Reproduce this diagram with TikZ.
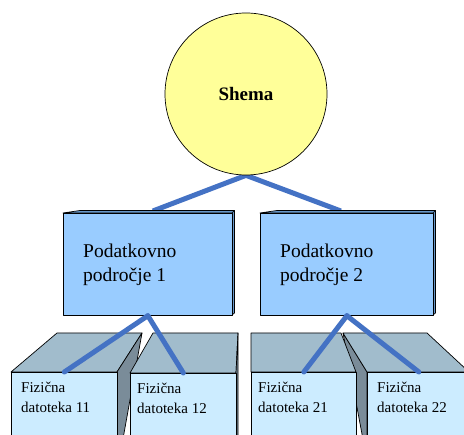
\documentclass[tikz,border=0pt]{standalone}
\usepackage{fontspec}
\setmainfont{Liberation Serif}
\newfontfamily\labelserif{Liberation Serif}
\usetikzlibrary{calc,backgrounds}

\definecolor{rootfill}{RGB}{255,255,153}
\definecolor{areafill}{RGB}{153,204,255}
\definecolor{areaside}{RGB}{102,150,200}
\definecolor{filefront}{RGB}{204,236,255}
\definecolor{filetop}{RGB}{161,188,204}
\definecolor{fileside}{RGB}{122,140,153}
\definecolor{linkblue}{RGB}{68,114,196}

\tikzset{
  outline/.style={draw=black, line width=0.7pt, line join=round},
  rootnode/.style={outline, circle, fill=rootfill, minimum size=162pt, inner sep=0pt,
    font=\labelserif\fontsize{19}{22}\selectfont\bfseries},
  areanode/.style={outline, rectangle, fill=areafill, minimum width=169pt, minimum height=102pt,
    anchor=north west, inner sep=0pt},
  areabevel/.style={outline, fill=areaside},
  areatext/.style={anchor=north west, inner sep=0pt, align=left,
    font=\labelserif\fontsize{19.5}{24}\selectfont},
  filefrontnode/.style={outline, rectangle, fill=filefront, anchor=north west, inner sep=0pt,
    minimum height=80pt},
  filetopface/.style={outline, fill=filetop},
  filesideface/.style={outline, fill=fileside},
  filetext/.style={anchor=north west, inner sep=0pt, align=left,
    font=\labelserif\fontsize{15}{20}\selectfont},
  link/.style={draw=linkblue, line width=5pt, line cap=round}
}

\begin{document}
\begin{tikzpicture}[x=1pt, y=-1pt]
\useasboundingbox (0,0) rectangle (464,435);
\clip (0,0) rectangle (464,435);

% physical file 11
\draw[filetopface] (11,372) -- (57,333) -- (142,333) -- (117,372) -- cycle;
\draw[filesideface] (117,372) -- (142,333) -- (121,450) -- (117,450) -- cycle;
\node[filefrontnode, minimum width=106pt] (f11) at (11,372) {};
\node[filetext] (t11) at (21,382) {Fizična\\datoteka 11};

% physical file 12
\draw[filetopface] (130,373) -- (153,333) -- (238,333) -- (236,373) -- cycle;
\draw[filesideface] (236,373) -- (238,333) -- (238,450) -- (236,450) -- cycle;
\node[filefrontnode, minimum width=106pt] (f12) at (130,373) {};
\node[filetext] (t12) at (137,383) {Fizična\\datoteka 12};

% physical file 22
\draw[filesideface] (343,333) -- (367,372) -- (367,450) -- (365,450) -- cycle;
\draw[filetopface] (367,372) -- (343,333) -- (427,333) -- (469,372) -- cycle;
\node[filefrontnode, minimum width=103pt] (f22) at (367,372) {};
\node[filetext] (t22) at (377,382) {Fizična\\datoteka 22};

% physical file 21
\draw[filetopface] (251,372) -- (251,333) -- (341,333) -- (356,372) -- cycle;
\node[filefrontnode, minimum width=105pt] (f21) at (251,372) {};
\node[filetext] (t21) at (258,382) {Fizična\\datoteka 21};

% data areas with a thin bevel on top and right
\draw[areabevel] (63,213) -- (80,210.5) -- (234.5,210.5) -- (232,213) -- cycle;
\draw[areabevel] (232,213) -- (234.5,210.5) -- (234.5,313) -- (232,315) -- cycle;
\node[areanode] (a1) at (63,213) {};
\node[areatext] (ta1) at (83,244) {Podatkovno\\področje 1};

\draw[areabevel] (260,213) -- (277,210.5) -- (435.5,210.5) -- (433,213) -- cycle;
\draw[areabevel] (433,213) -- (435.5,210.5) -- (435.5,313) -- (433,315) -- cycle;
\node[areanode, minimum width=173pt] (a2) at (260,213) {};
\node[areatext] (ta2) at (280,244) {Podatkovno\\področje 2};

% links from data areas to files
\draw[link] (a1.south) -- (f11.north);
\draw[link] (a1.south) -- (f12.north);
\draw[link] (a2.south) -- (f21.north);
\draw[link] (a2.south) -- (f22.north);

% schema and its links, drawn behind everything else
\node[rootnode] (root) at (246,94) {Shema};
\begin{scope}[on background layer]
\draw[link, line cap=butt] (root.south) -- ($(a1.north)+(5,-2)$);
\draw[link, line cap=butt] (root.south) -- ($(a2.north)+(-6,-2)$);
\end{scope}
\end{tikzpicture}
\end{document}
